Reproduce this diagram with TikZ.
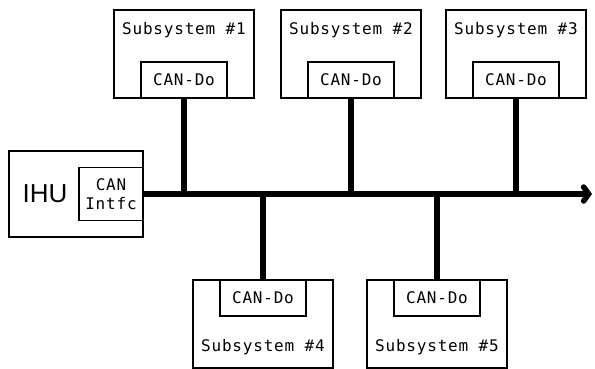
\documentclass[tikz,border=0pt]{standalone}
\usepackage{fontspec}
\usepackage{tikz}
\usetikzlibrary{arrows.meta, positioning, calc}
\newfontfamily\pixfont[LetterSpace=5]{DejaVu Sans Mono}
\newfontfamily\bigfont{Liberation Sans}
\tikzset{
  sysbox/.style={
    rectangle, draw=black, line width=1.3pt,
    minimum width=140pt, minimum height=88pt,
    inner sep=0pt
  },
  canbox/.style={
    rectangle, draw=black, line width=1.3pt,
    minimum width=86pt, minimum height=36pt,
    inner sep=0pt, font=\pixfont\fontsize{16}{19}\selectfont
  },
  systext/.style={
    font=\pixfont\fontsize{16}{19}\selectfont, inner sep=0pt
  },
  busline/.style={
    -{Straight Barb[length=5pt, width=14pt, line cap=round]},
    line width=5.5pt
  },
  dropline/.style={
    line width=5.5pt
  }
}
\begin{document}
\begin{tikzpicture}[x=1pt, y=-1pt]
  \useasboundingbox (0,0) rectangle (595,369);

  % ── IHU with its CAN interface ─────────────────────────────────────
  \node[sysbox, minimum width=134pt, minimum height=86pt] (ihu) at (76,194) {};
  \node[canbox, anchor=east, minimum width=64pt, minimum height=53pt,
        align=center] (intfc) at (ihu.east) {CAN\\Intfc};
  \node[font=\bigfont\fontsize{26}{30}\selectfont, inner sep=0pt] (ihutext) at (45,194) {IHU};

  % ── Bus ──────────────────────────────────────────────────────────────
  \coordinate (busend) at (592,194);
  \draw[busline] (intfc.east) -- (busend);

  % ── Top row: subsystems 1-3 ──────────────────────────────────────────
  \node[sysbox] (sub1) at (184,54) {};
  \node[sysbox] (sub2) at (351,54) {};
  \node[sysbox] (sub3) at (516,54) {};
  \node[systext, below=13pt of sub1.north] (t1) {Subsystem \#1};
  \node[systext, below=13pt of sub2.north] (t2) {Subsystem \#2};
  \node[systext, below=13pt of sub3.north] (t3) {Subsystem \#3};
  \node[canbox, anchor=south] (can1) at (sub1.south) {CAN-Do};
  \node[canbox, anchor=south] (can2) at (sub2.south) {CAN-Do};
  \node[canbox, anchor=south] (can3) at (sub3.south) {CAN-Do};

  % ── Bottom row: subsystems 4-5 ───────────────────────────────────────
  \node[sysbox] (sub4) at (263,324) {};
  \node[sysbox] (sub5) at (437,324) {};
  \node[systext, above=14pt of sub4.south] (t4) {Subsystem \#4};
  \node[systext, above=14pt of sub5.south] (t5) {Subsystem \#5};
  \node[canbox, anchor=north] (can4) at (sub4.north) {CAN-Do};
  \node[canbox, anchor=north] (can5) at (sub5.north) {CAN-Do};

  % drops onto the bus
  \foreach \c in {can1, can2, can3, can4, can5}
    \draw[dropline] (\c) -- (\c |- busend);

\end{tikzpicture}
\end{document}
